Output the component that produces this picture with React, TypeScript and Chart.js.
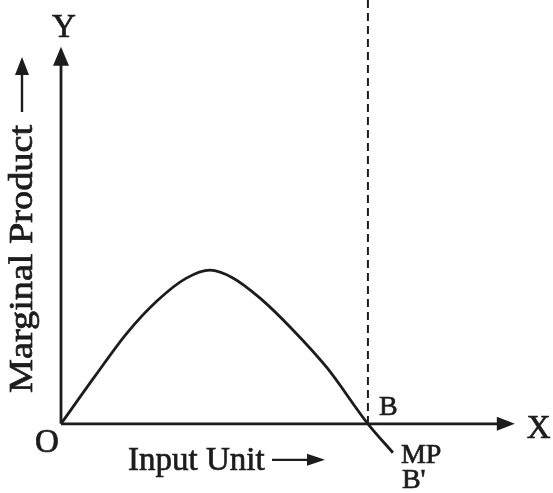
import React, { useEffect, useRef } from "react";
import { Chart, registerables } from "chart.js";

Chart.register(...registerables);

// Marginal product curve (input units, MP)
const mpX = [0, 0.775, 1.5, 2.2, 2.85, 3.4, 3.92, 4.54, 5.29, 6.07, 7.0, 7.57];
const mpY = [0, 0.99, 1.88, 2.56, 3.02, 3.19, 3.03, 2.61, 1.95, 1.16, 0, -0.6];

const pointB = 7.0;
const xAxisEnd = 10.35;
const yAxisEnd = 7.83;

const xTitle = "Input Unit";
const yTitle = "Marginal Product";
const originLabel = "O";
const xAxisName = "X";
const yAxisName = "Y";
const bLabel = "B";
const mpLabel = "MP";
const bPrimeLabel = "B'";

const SERIF = '"Liberation Serif", "DejaVu Serif", serif';
const INK = "#1c1c1c";

function arrowHead(ctx: CanvasRenderingContext2D, tipX: number, tipY: number, dir: "up" | "right", len: number, half: number) {
  ctx.beginPath();
  if (dir === "up") {
    ctx.moveTo(tipX, tipY);
    ctx.lineTo(tipX - half, tipY + len);
    ctx.lineTo(tipX + half, tipY + len);
  } else {
    ctx.moveTo(tipX, tipY);
    ctx.lineTo(tipX - len, tipY - half);
    ctx.lineTo(tipX - len, tipY + half);
  }
  ctx.closePath();
  ctx.fill();
}

function boldText(ctx: CanvasRenderingContext2D, s: string, x: number, y: number) {
  ctx.fillText(s, x, y);
  ctx.strokeText(s, x, y);
}

const diagramPlugin = {
  id: "diagram",
  beforeDatasetsDraw(chart: any) {
    const ctx: CanvasRenderingContext2D = chart.ctx;
    const xs = chart.scales.x;
    const ys = chart.scales.y;
    const ox = xs.getPixelForValue(0);
    const oy = ys.getPixelForValue(0);
    const yTop = ys.getPixelForValue(yAxisEnd);
    const xEnd = xs.getPixelForValue(xAxisEnd);
    const bx = xs.getPixelForValue(pointB);
    ctx.save();
    ctx.strokeStyle = INK;
    ctx.fillStyle = INK;

    // dashed line at B
    ctx.lineWidth = 2;
    ctx.setLineDash([8, 5]);
    ctx.beginPath();
    ctx.moveTo(bx, 0);
    ctx.lineTo(bx, oy);
    ctx.stroke();
    ctx.setLineDash([]);

    // axes
    ctx.lineWidth = 2.8;
    ctx.beginPath();
    ctx.moveTo(ox, oy);
    ctx.lineTo(ox, yTop + 12);
    ctx.moveTo(ox, oy);
    ctx.lineTo(xEnd - 12, oy);
    ctx.stroke();
    arrowHead(ctx, ox, yTop, "up", 19, 8);
    arrowHead(ctx, xEnd, oy, "right", 18, 7);
    ctx.restore();
  },
  afterDatasetsDraw(chart: any) {
    const ctx: CanvasRenderingContext2D = chart.ctx;
    const xs = chart.scales.x;
    const ys = chart.scales.y;
    const ox = xs.getPixelForValue(0);
    const oy = ys.getPixelForValue(0);
    const yTop = ys.getPixelForValue(yAxisEnd);
    const xEnd = xs.getPixelForValue(xAxisEnd);
    const bx = xs.getPixelForValue(pointB);
    ctx.save();
    ctx.fillStyle = INK;
    ctx.strokeStyle = INK;
    ctx.lineWidth = 0.7;
    ctx.textBaseline = "alphabetic";

    ctx.font = `33px ${SERIF}`;
    ctx.textAlign = "center";
    boldText(ctx, yAxisName, ox + 3, yTop - 10);
    boldText(ctx, originLabel, ox - 14, oy + 28);
    ctx.textAlign = "left";
    boldText(ctx, xAxisName, xEnd + 12, oy + 14);

    ctx.font = `28px ${SERIF}`;
    boldText(ctx, bLabel, bx + 11, oy - 9);
    boldText(ctx, mpLabel, bx + 33, oy + 39);
    boldText(ctx, bPrimeLabel, bx + 34, oy + 64);

    // x title with arrow
    ctx.font = `33px ${SERIF}`;
    boldText(ctx, xTitle, 128, oy + 46);
    ctx.lineWidth = 2.4;
    ctx.beginPath();
    ctx.moveTo(272, oy + 36);
    ctx.lineTo(310, oy + 36);
    ctx.stroke();
    arrowHead(ctx, 325, oy + 36, "right", 18, 6);

    // y title rotated with arrow
    ctx.save();
    ctx.lineWidth = 0.7;
    ctx.translate(32, 393);
    ctx.rotate(-Math.PI / 2);
    const w = ctx.measureText(yTitle).width;
    ctx.scale(268 / w, 1.05);
    boldText(ctx, yTitle, 0, 0);
    ctx.restore();
    ctx.lineWidth = 2.4;
    ctx.beginPath();
    ctx.moveTo(22, 112);
    ctx.lineTo(22, 70);
    ctx.stroke();
    arrowHead(ctx, 22, 57, "up", 18, 7);

    ctx.restore();
  },
};

export default function App() {
  const ref = useRef<HTMLCanvasElement | null>(null);
  useEffect(() => {
    if (!ref.current) return;
    const chart = new Chart(ref.current, {
      type: "scatter",
      data: {
        datasets: [
          {
            data: mpX.map((x, i) => ({ x, y: mpY[i] })),
            showLine: true,
            borderColor: INK,
            borderWidth: 2.8,
            pointRadius: 0,
            cubicInterpolationMode: "monotone",
            fill: false,
          },
        ],
      },
      options: {
        animation: false,
        responsive: false,
        devicePixelRatio: 1,
        layout: { padding: { left: 61, right: 36, top: 0, bottom: 21 } },
        plugins: { legend: { display: false }, tooltip: { enabled: false } },
        scales: {
          x: { type: "linear", min: 0, max: 10.4, display: false },
          y: { type: "linear", min: -1, max: 8.8, display: false },
        },
      },
      plugins: [diagramPlugin],
    } as any);
    return () => chart.destroy();
  }, []);
  return (
    <div style={{ position: "fixed", left: 0, top: 0, width: 553, height: 493, background: "#fff" }}>
      <canvas ref={ref} width={553} height={493} style={{ width: 553, height: 493, display: "block" }} />
    </div>
  );
}
